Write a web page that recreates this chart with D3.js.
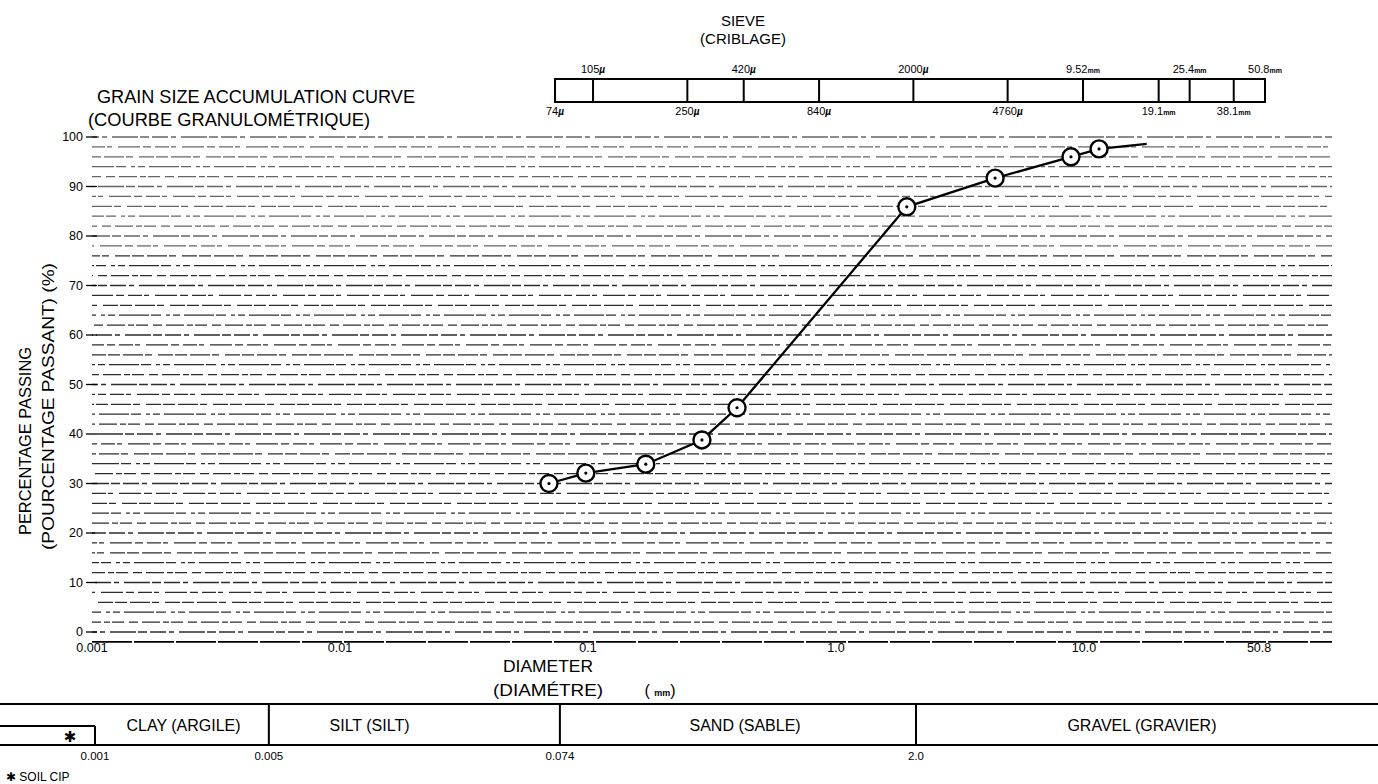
<!DOCTYPE html>
<html><head><meta charset="utf-8">
<script src="https://cdn.jsdelivr.net/npm/d3@7"></script>
<style>
html,body{margin:0;padding:0;background:#fff;}
svg{display:block;font-family:"Liberation Sans",Arial,Helvetica,sans-serif;}
</style></head><body>
<svg id="c" width="1378" height="784"></svg>
<script>
// ---------- data ----------
const diameters = [0.0696, 0.098, 0.171, 0.288, 0.399, 1.93, 4.38, 8.86, 11.5, 17.9];
const passing   = [30.0, 32.1, 33.9, 38.8, 45.3, 85.9, 91.7, 96.0, 97.6, 98.6];
const markerCount = 9;

const yTicks = [0, 10, 20, 30, 40, 50, 60, 70, 80, 90, 100];
const yGridStep = 2;
const xTickValues = [0.001, 0.01, 0.1, 1, 10, 50.8];
const xTickLabels = ["0.001", "0.01", "0.1", "1.0", "10.0", "50.8"];

const sieveSizes   = [0.074, 0.105, 0.25, 0.42, 0.84, 2.0, 4.76, 9.52, 19.1, 25.4, 38.1, 50.8];
const sieveNumbers = ["74", "105", "250", "420", "840", "2000", "4760", "9.52", "19.1", "25.4", "38.1", "50.8"];
const sieveUnits   = ["µ", "µ", "µ", "µ", "µ", "µ", "µ", "mm", "mm", "mm", "mm", "mm"];

const classBounds      = [0.001, 0.005, 0.074, 2.0];
const classBoundLabels = ["0.001", "0.005", "0.074", "2.0"];
const classNames       = ["CLAY (ARGILE)", "SILT (SILT)", "SAND (SABLE)", "GRAVEL (GRAVIER)"];
const classLabelAt     = [0.00227, 0.0127, 0.411, 16.2];

// ---------- scales ----------
const W = 1378, H = 784;
const svg = d3.select("#c");
const x = d3.scaleLog().domain([0.001, 100]).range([92, 1332]);
const y = d3.scaleLinear().domain([0, 100]).range([632, 137]);
const xs = d3.scaleLog().domain([0.074, 50.8]).range([555, 1265]);
const xb = d3.scaleLog().domain([0.001, 2.0]).range([95, 916]);
const ink = "#000";

// ---------- sieve bar ----------
const sv = svg.append("g");
sv.append("text").attr("x", 743).attr("y", 26).attr("text-anchor", "middle")
  .attr("font-size", 15).attr("fill", ink).text("SIEVE");
sv.append("text").attr("x", 743).attr("y", 44).attr("text-anchor", "middle")
  .attr("font-size", 15).attr("fill", ink).text("(CRIBLAGE)");
sv.append("rect").attr("x", xs(sieveSizes[0])).attr("y", 79)
  .attr("width", xs(sieveSizes[sieveSizes.length - 1]) - xs(sieveSizes[0])).attr("height", 23)
  .attr("fill", "none").attr("stroke", ink).attr("stroke-width", 2);
sv.selectAll("line.sb").data(sieveSizes.slice(1, -1)).join("line")
  .attr("x1", d => xs(d)).attr("x2", d => xs(d)).attr("y1", 79).attr("y2", 102)
  .attr("stroke", ink).attr("stroke-width", 2);
const sl = sv.selectAll("text.sl").data(sieveSizes).join("text")
  .attr("class", "sl")
  .attr("x", d => xs(d)).attr("y", (d, i) => i % 2 ? 73 : 115)
  .attr("text-anchor", "middle").attr("font-size", 11).attr("fill", ink);
sl.append("tspan").text((d, i) => sieveNumbers[i]);
sl.append("tspan").attr("font-size", (d, i) => sieveUnits[i] === "µ" ? 10 : 7)
  .attr("font-style", (d, i) => sieveUnits[i] === "µ" ? "italic" : "normal")
  .attr("font-weight", "bold")
  .text((d, i) => sieveUnits[i]);

// ---------- titles ----------
svg.append("text").attr("x", 97).attr("y", 103).attr("font-size", 17.5).attr("fill", ink)
  .attr("textLength", 318).attr("lengthAdjust", "spacingAndGlyphs")
  .text("GRAIN SIZE ACCUMULATION CURVE");
svg.append("text").attr("x", 88).attr("y", 126).attr("font-size", 17.5).attr("fill", ink)
  .attr("textLength", 282).attr("lengthAdjust", "spacingAndGlyphs")
  .text("(COURBE GRANULOMÉTRIQUE)");

// ---------- grid ----------
const gridVals = d3.range(-yGridStep, 100 + 0.01, yGridStep);
const dashes = ["22 3 8 4 14 2 5 6", "16 3 5 5 26 2 9 3", "9 4 18 3 6 2 12 5", "30 2 10 5 4 3 7 4", "12 3 20 2 7 6 15 2"];
svg.append("g").selectAll("line").data(gridVals).join("line")
  .attr("x1", x.range()[0]).attr("x2", x.range()[1])
  .attr("y1", d => y(d)).attr("y2", d => y(d))
  .attr("stroke", ink)
  .attr("stroke-width", d => d < 0 ? 1.6 : (d % 10 === 0 ? 1.4 : 1.2))
  .attr("stroke-dasharray", (d, i) => d < 0 ? "40 2" : dashes[i % dashes.length])
  .attr("stroke-dashoffset", (d, i) => i * 11)
  .attr("opacity", d => d < 0 ? 1 : (d >= 78 ? 0.6 : 0.82));

// ---------- y axis ----------
const ya = svg.append("g");
ya.selectAll("text").data(yTicks).join("text")
  .attr("x", 83).attr("y", d => y(d) + 4).attr("text-anchor", "end")
  .attr("font-size", 12.5).attr("fill", ink).text(d => d);
ya.selectAll("line").data(yTicks).join("line")
  .attr("x1", 86).attr("x2", 97).attr("y1", d => y(d)).attr("y2", d => y(d))
  .attr("stroke", ink).attr("stroke-width", 1.3);
svg.append("text").attr("transform", "translate(31,535) rotate(-90)")
  .attr("font-size", 17).attr("fill", ink)
  .attr("textLength", 188).attr("lengthAdjust", "spacingAndGlyphs")
  .text("PERCENTAGE PASSING");
svg.append("text").attr("transform", "translate(54,550) rotate(-90)")
  .attr("font-size", 17).attr("fill", ink)
  .attr("textLength", 287).attr("lengthAdjust", "spacingAndGlyphs")
  .text("(POURCENTAGE PASSANT) (%)");

// ---------- x axis ----------
svg.append("g").selectAll("text").data(xTickValues).join("text")
  .attr("x", d => x(d)).attr("y", 652).attr("text-anchor", "middle")
  .attr("font-size", 12.5).attr("fill", ink).text((d, i) => xTickLabels[i]);
svg.append("text").attr("x", 548).attr("y", 672).attr("text-anchor", "middle")
  .attr("font-size", 16).attr("fill", ink).attr("textLength", 90).attr("lengthAdjust", "spacingAndGlyphs")
  .text("DIAMETER");
svg.append("text").attr("x", 548).attr("y", 696).attr("text-anchor", "middle")
  .attr("font-size", 16).attr("fill", ink).attr("textLength", 110).attr("lengthAdjust", "spacingAndGlyphs")
  .text("(DIAMÉTRE)");
const mmT = svg.append("text").attr("x", 660).attr("y", 696).attr("text-anchor", "middle")
  .attr("font-size", 16).attr("fill", ink);
mmT.append("tspan").text("( ");
mmT.append("tspan").attr("font-size", 9).attr("font-weight", "bold").text("mm");
mmT.append("tspan").text(")");

// ---------- curve ----------
const pts = diameters.map((d, i) => [d, passing[i]]);
svg.append("path").datum(pts)
  .attr("d", d3.line().x(d => x(d[0])).y(d => y(d[1])).curve(d3.curveLinear))
  .attr("fill", "none").attr("stroke", "#000").attr("stroke-width", 2.3);
const mk = svg.append("g").selectAll("g").data(pts.slice(0, markerCount)).join("g")
  .attr("transform", d => `translate(${x(d[0])},${y(d[1])})`);
mk.append("circle").attr("r", 8.5).attr("fill", "#fff").attr("stroke", "#000").attr("stroke-width", 2.4);
mk.append("circle").attr("r", 1.6).attr("fill", "#000");

// ---------- soil class band ----------
const band = svg.append("g");
band.append("line").attr("x1", 0).attr("x2", W).attr("y1", 704).attr("y2", 704)
  .attr("stroke", ink).attr("stroke-width", 2);
band.append("line").attr("x1", 0).attr("x2", W).attr("y1", 745).attr("y2", 745)
  .attr("stroke", ink).attr("stroke-width", 2);
band.append("line").attr("x1", 0).attr("x2", xb(classBounds[0])).attr("y1", 726).attr("y2", 726)
  .attr("stroke", ink).attr("stroke-width", 2);
band.append("line").attr("x1", xb(classBounds[0])).attr("x2", xb(classBounds[0])).attr("y1", 726).attr("y2", 745)
  .attr("stroke", ink).attr("stroke-width", 2);
band.selectAll("line.cb").data(classBounds.slice(1)).join("line")
  .attr("x1", d => xb(d)).attr("x2", d => xb(d)).attr("y1", 704).attr("y2", 745)
  .attr("stroke", ink).attr("stroke-width", 2);
band.selectAll("text.cn").data(classNames).join("text")
  .attr("x", (d, i) => xb(classLabelAt[i])).attr("y", 731).attr("text-anchor", "middle")
  .attr("font-size", 16).attr("fill", ink).text(d => d);
band.selectAll("text.cl").data(classBounds).join("text")
  .attr("x", d => xb(d)).attr("y", 760).attr("text-anchor", "middle")
  .attr("font-size", 11.5).attr("fill", ink).text((d, i) => classBoundLabels[i]);
band.append("text").attr("x", 70).attr("y", 742).attr("text-anchor", "middle")
  .attr("font-size", 15).attr("font-family", "DejaVu Sans").attr("fill", ink).text("✱");
svg.append("text").attr("x", 6).attr("y", 781).attr("font-size", 12).attr("fill", ink).text("✱ SOIL CIP");
</script>
</body></html>
